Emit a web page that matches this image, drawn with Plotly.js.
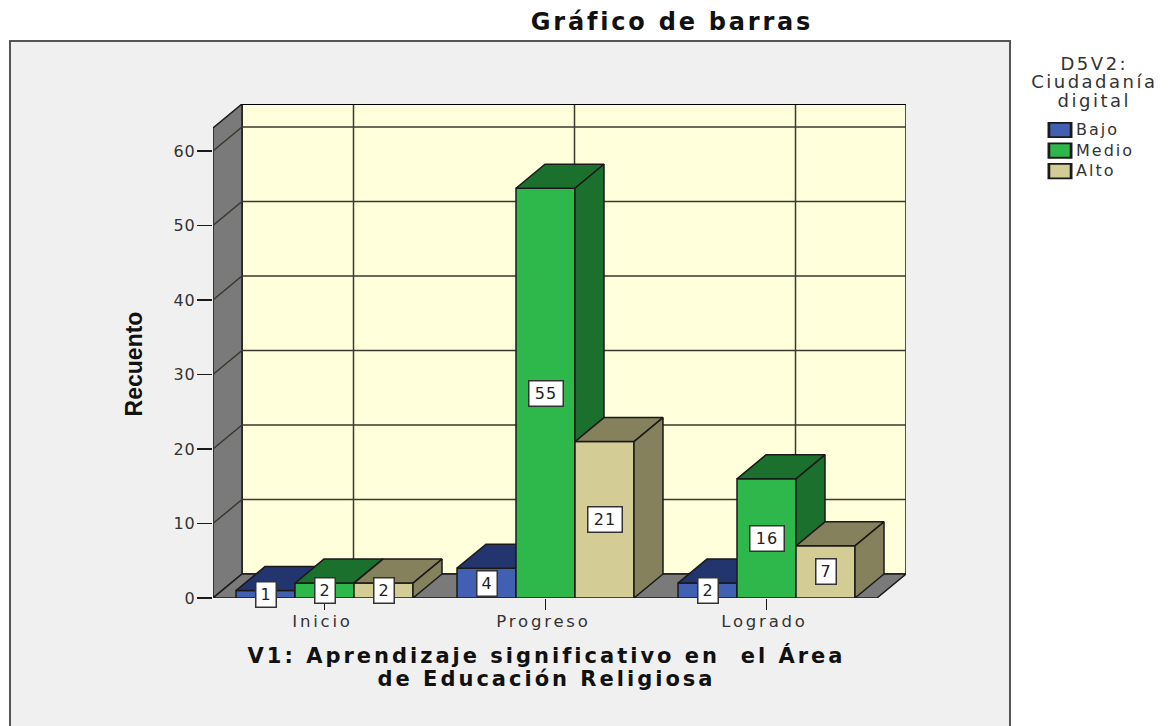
<!DOCTYPE html>
<html lang="es">
<head>
<meta charset="utf-8">
<script src="https://cdn.plot.ly/plotly-3.0.1.min.js"></script>
<style>
html,body{margin:0;padding:0;background:#fff;overflow:hidden}
.gtitle{letter-spacing:2.8px}
.xtitle{letter-spacing:3px}
.g-xtitle{transform:translateX(-13px)}
.g-ytitle{transform:translateY(13px)}
.xtick text{letter-spacing:2.8px}
.ytick text{letter-spacing:1px}
.legendtext{letter-spacing:2px;font-size:16px !important;transform:translate(-3px,-2px)}
.legendtitletext{letter-spacing:2.5px;text-anchor:middle;transform:translateX(65px)}
.annotation-text{letter-spacing:1px}
.legendpoints path{transform:translate(21px,-2px) scale(1.85,1.2)}
.legend .scrollbox{clip-path:none}
</style>
</head>
<body>
<div id="chart" style="width:1173px;height:726px"></div>
<script>
const categories = ['Inicio', 'Progreso', 'Logrado'];
const groupPositions = [1, 2, 3];
const bajo = [1, 4, 2];
const medio = [2, 55, 16];
const alto = [2, 21, 7];
const yTicks = [0, 10, 20, 30, 40, 50, 60];

const seriesNames = ['Bajo', 'Medio', 'Alto'];
const seriesValues = [bajo, medio, alto];
const frontColors = ['#4160b2', '#2eb84b', '#d3cd95'];
const topColors = ['#23356f', '#1c702e', '#85815d'];
const sideColors = ['#23356f', '#1c702e', '#85815d'];

const W = 1173, H = 726;
const L = 213, R = 906, T = 104, B = 598;
const pxX = 221, pxY = 7.45;
const dx = 29 / pxX, dy = 24 / pxY;
const barW = 59 / pxX;
const x0 = 1 - (324.5 - L) / pxX, x1 = 1 + (R - 324.5) / pxX;
const yTop = (B - T) / pxY;
const frontTop = yTop - dy;
const frontRight = x1 - dx;

const traces = [];
const ink = '#1a1a1a';
function poly(xs, ys, fill, lw) {
  traces.push({type: 'scatter', mode: 'lines', x: xs.concat(xs[0]), y: ys.concat(ys[0]), fill: 'toself',
    fillcolor: fill, line: {color: ink, width: lw === undefined ? 1.5 : lw}, showlegend: false, hoverinfo: 'skip'});
}
function line(xs, ys, c, w) {
  traces.push({type: 'scatter', mode: 'lines', x: xs, y: ys, line: {color: c || ink, width: w || 1.5}, showlegend: false, hoverinfo: 'skip'});
}

seriesNames.forEach((name, s) => {
  traces.push({type: 'bar', name: name, x: groupPositions, y: seriesValues[s], width: barW,
    marker: {color: frontColors[s], line: {color: ink, width: 1.5}}, hoverinfo: 'skip'});
});

poly([x0 + dx, x1, x1, x0 + dx], [dy, dy, yTop, yTop], '#ffffdc', 1.5);
poly([x0, x0 + dx, x0 + dx, x0], [0, dy, yTop, frontTop], '#7a7a7a', 1.5);
poly([x0, frontRight, x1, x0 + dx], [0, 0, dy, dy], '#7a7a7a', 1.5);
yTicks.slice(1).forEach(v => {
  line([x0, x0 + dx, x1], [v, v + dy, v + dy], '#3a3a30', 1.5);
});
groupPositions.forEach(p => line([p + dx, p + dx], [dy, yTop], '#3a3a30', 1.5));
line([x0 + dx, x1], [yTop, yTop], '#000', 2);

groupPositions.forEach((p, g) => {
  seriesNames.forEach((name, s) => {
    const v = seriesValues[s][g];
    const a = p + (s - 1.5) * barW, b = a + barW;
    poly([a, b, b, a], [0, 0, v, v], frontColors[s]);
    poly([a, b, b + dx, a + dx], [v, v, v + dy, v + dy], topColors[s]);
    poly([b, b + dx, b + dx, b], [0, dy, v + dy, v], sideColors[s]);
  });
});

const annotations = [];
groupPositions.forEach((p, g) => {
  seriesNames.forEach((name, s) => {
    const v = seriesValues[s][g];
    annotations.push({x: p + (s - 1) * barW, y: v / 2, text: String(v), showarrow: false,
      bgcolor: '#ffffff', bordercolor: '#333', borderwidth: 1.5, borderpad: 3.5,
      width: v < 10 ? 12 : 26, height: 17,
      font: {family: 'DejaVu Sans', size: 16, color: '#222'}});
  });
});

const layout = {
  width: W, height: H,
  margin: {l: L, r: W - R, t: T, b: H - B, autoexpand: false},
  paper_bgcolor: '#ffffff', plot_bgcolor: 'rgba(0,0,0,0)',
  barmode: 'group', bargap: 1 - 3 * barW, bargroupgap: 0,
  title: {text: 'Gráfico de barras', x: 672 / W, xanchor: 'center', y: 1 - 22 / H, yanchor: 'middle',
    font: {family: 'DejaVu Sans', size: 24, color: '#111', weight: 700}},
  xaxis: {range: [x0, x1], tickvals: groupPositions, ticktext: categories, showgrid: false, zeroline: false, showline: false,
    ticks: 'outside', ticklen: 11, tickwidth: 1.5, tickcolor: ink, ticklabelstandoff: -3, ticklabelshift: -2,
    tickfont: {family: 'DejaVu Sans', size: 16.5, color: '#333'},
    title: {text: 'V1: Aprendizaje significativo en  el Área<br>de Educación Religiosa', standoff: 18,
      font: {family: 'DejaVu Sans', size: 21, color: '#111', weight: 700}}},
  yaxis: {range: [0, yTop], tickvals: yTicks, showgrid: false, zeroline: false, showline: false,
    ticks: 'outside', ticklen: 15, tickwidth: 1.5, tickcolor: ink, ticklabelstandoff: -2,
    tickfont: {family: 'DejaVu Sans', size: 16, color: '#333'},
    title: {text: 'Recuento', standoff: 24,
      font: {family: 'Liberation Sans', size: 23, color: '#111', weight: 700}}},
  showlegend: true,
  legend: {x: (1027 - L) / (R - L), xanchor: 'left', y: (B - 46.5) / (B - T), yanchor: 'top',
    bgcolor: 'rgba(0,0,0,0)', indentation: 12, traceorder: 'normal',
    font: {family: 'DejaVu Sans', size: 13.5, color: '#333'},
    title: {text: 'D5V2:<br>Ciudadanía<br>digital', side: 'top center', font: {family: 'DejaVu Sans', size: 18, color: '#333'}}},
  shapes: [{type: 'rect', xref: 'paper', yref: 'paper', layer: 'below',
    x0: (10 - L) / (R - L), x1: (1010 - L) / (R - L),
    y0: (B - 760) / (B - T), y1: (B - 41) / (B - T),
    fillcolor: '#f0f0f0', line: {color: '#555', width: 2}}],
  annotations: annotations
};
function tightenLines(selector, spacing) {
  document.querySelectorAll(selector + ' tspan.line').forEach((t, i) => {
    t.setAttribute('dy', (i * spacing) + 'px');
  });
}
Plotly.newPlot('chart', traces, layout, {displayModeBar: false, staticPlot: true}).then(() => {
  tightenLines('.legendtitletext', 18.5);
  tightenLines('.xtitle', 23);
});
</script>
</body>
</html>
